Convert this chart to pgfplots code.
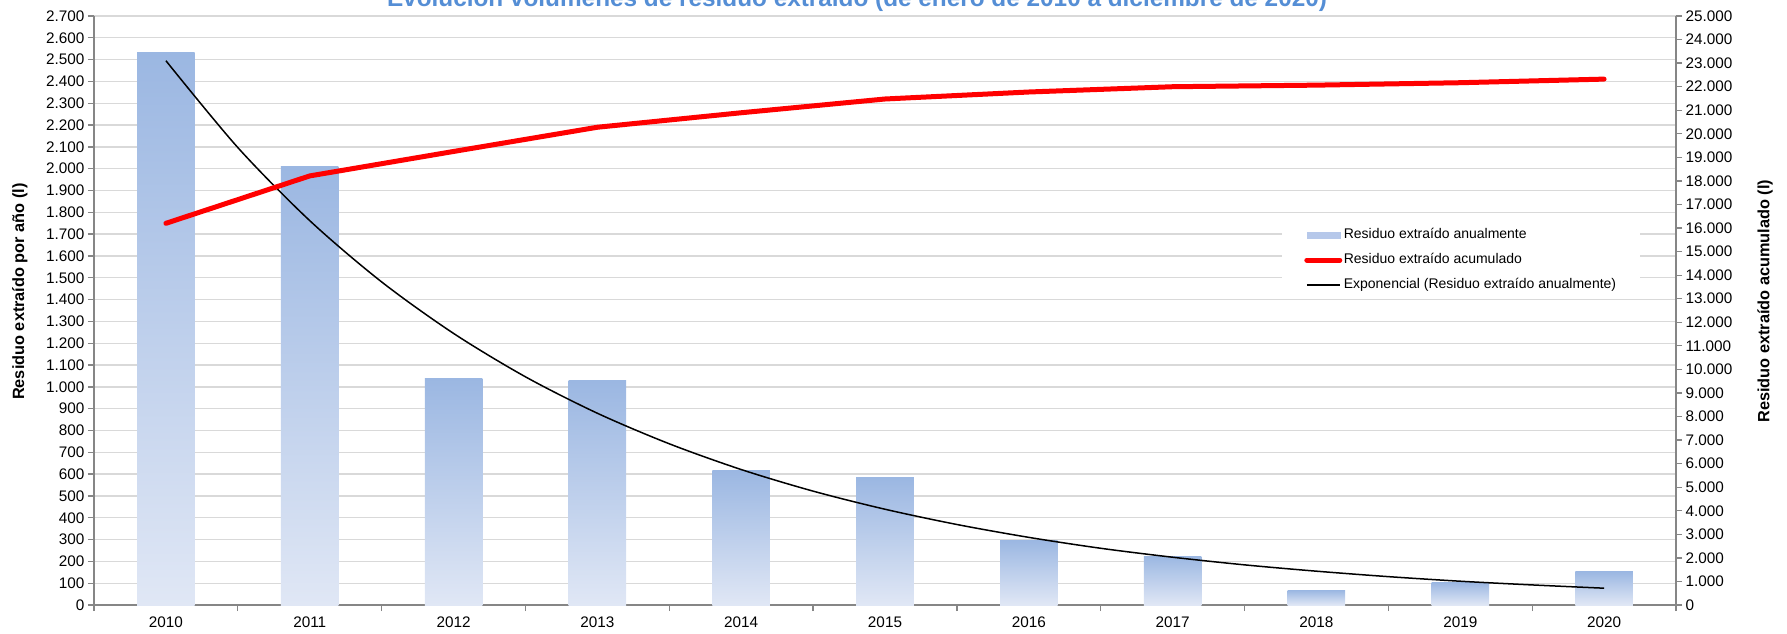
\documentclass[border=0pt]{standalone}
\usepackage{pgfplots}
\pgfplotsset{compat=1.18}
\usepackage{fontspec}
\setmainfont{Liberation Sans}
\definecolor{barTop}{RGB}{155,183,226}
\definecolor{barBot}{RGB}{224,231,245}
\definecolor{legBar}{RGB}{182,200,234}
\definecolor{gridc}{RGB}{217,217,217}
\definecolor{axc}{RGB}{134,134,134}
\definecolor{titc}{RGB}{85,142,213}

\pgfplotsset{
  common/.style={
    scale only axis, width=1582pt, height=589pt,
    at={(0,0)}, anchor=south west,
    xmin=-0.5, xmax=10.5,
    tick align=outside,
    scaled y ticks=false,
    /pgf/number format/1000 sep={.},
    /pgf/number format/assume math mode=true,
    /pgf/number format/fixed,
    axis line style={draw=axc, line width=1.3pt},
    tick style={draw=axc, line width=1.3pt},
    major tick length=6pt, minor tick length=6pt,
    every tick label/.append style={font=\fontsize{15.3}{18}\selectfont, text=black},
  },
  barsty/.style={ybar, bar width=0.4, bar shift=0pt, draw=none,
    top color=barTop, bottom color=barBot, forget plot},
}

\begin{document}
\begin{tikzpicture}[x=1pt,y=1pt]
\useasboundingbox (-94,-29) rectangle (1693,605);

\begin{axis}[common,
  ymin=0, ymax=2700, ytick={0,100,...,2700},
  axis y line*=left, axis x line*=bottom,
  ymajorgrids, grid style={draw=gridc, line width=1.3pt},
  xtick={0,...,10},
  xticklabels={2010,2011,2012,2013,2014,2015,2016,2017,2018,2019,2020},
  xticklabel style={yshift=-2pt},
  every major x tick/.append style={draw=none},
  minor xtick={-0.5,0.5,...,10.5},
  ylabel={Residuo extraído por año (l)},
  every axis y label/.style={at={(axis description cs:-0.0468,0.532)}, rotate=90, anchor=center,
    font=\bfseries\fontsize{16.3}{19}\selectfont},
]
\addplot[barsty] coordinates {(0,2532)};
\addplot[barsty] coordinates {(1,2012)};
\addplot[barsty] coordinates {(2,1038)};
\addplot[barsty] coordinates {(3,1028)};
\addplot[barsty] coordinates {(4,615)};
\addplot[barsty] coordinates {(5,584)};
\addplot[barsty] coordinates {(6,297)};
\addplot[barsty] coordinates {(7,224)};
\addplot[barsty] coordinates {(8,67)};
\addplot[barsty] coordinates {(9,103)};
\addplot[barsty] coordinates {(10,153)};
\addplot[black, line width=1.5pt, smooth]
  coordinates {(0,2495) (0.5,2097) (1,1762) (1.5,1481) (2,1245) (2.5,1046) (3,879) (3.5,739) (4,621) (4.5,522) (5,439) (5.5,369) (6,310) (6.5,260) (7,219) (7.5,184) (8,155) (8.5,130) (9,109) (9.5,92) (10,77)};
\end{axis}

\begin{axis}[common,
  ymin=0, ymax=25000, ytick={0,1000,...,25000},
  axis y line*=right, axis x line=none,
  ylabel={Residuo extraído acumulado (l)},
  every axis y label/.style={at={(axis description cs:1.0563,0.516)}, rotate=90, anchor=center,
    font=\bfseries\fontsize{16.3}{19}\selectfont},
  legend image code/.code={\draw[#1] (0pt,0pt) -- (33pt,0pt);},
  legend cell align=left,
  legend style={at={(axis description cs:0.751,0.652)}, anchor=north west,
    draw=none, fill=white, inner xsep=22pt, inner ysep=6pt,
    font=\fontsize{14}{16}\selectfont, row sep=9pt,
    nodes={inner sep=1.5pt, text height=10pt, text depth=3pt}},
]
\addlegendimage{legend image code/.code={\fill[legBar] (0pt,-3pt) rectangle (33pt,3pt);}}
\addlegendentry{Residuo extraído anualmente}
\addplot[red, line width=5pt, line cap=round, line join=round]
  coordinates {(0,16200) (1,18212) (2,19250) (3,20278) (4,20893) (5,21477) (6,21774) (7,21998) (8,22065) (9,22168) (10,22321)};
\addlegendentry{Residuo extraído acumulado}
\addlegendimage{black, line width=1.5pt}
\addlegendentry{Exponencial (Residuo extraído anualmente)}
\end{axis}

\node[anchor=base, text=titc, inner sep=0pt] at (763,598)
  {\resizebox{940pt}{!}{\bfseries Evolución volúmenes de residuo extraído (de enero de 2010 a diciembre de 2020)}};
\end{tikzpicture}
\end{document}
